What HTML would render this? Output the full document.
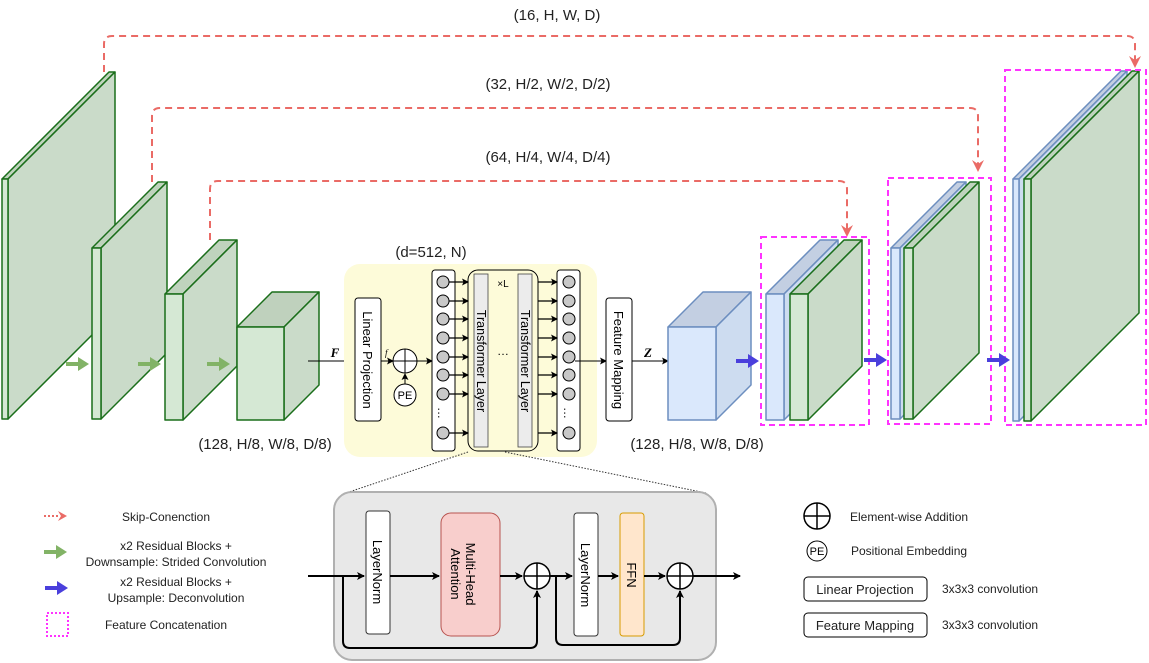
<!DOCTYPE html>
<html><head><meta charset="utf-8"><style>
html,body{margin:0;padding:0;background:#fff}
svg{display:block;font-family:"Liberation Sans",Arial,sans-serif}
</style></head><body>
<svg width="1149" height="663" viewBox="0 0 1149 663" xmlns="http://www.w3.org/2000/svg">
<defs>
<marker id="ah" markerWidth="8" markerHeight="8" refX="7" refY="4" orient="auto" markerUnits="userSpaceOnUse"><path d="M0,0 L8,4 L0,8 L2,4 Z" fill="#000"/></marker>
<marker id="ahs" markerWidth="7" markerHeight="7" refX="6" refY="3.5" orient="auto" markerUnits="userSpaceOnUse"><path d="M0,0 L7,3.5 L0,7 L1.5,3.5 Z" fill="#000"/></marker>
</defs>

<g fill="none" stroke="#ea6b66" stroke-width="2" stroke-dasharray="7 5">
<path d="M104,72 V44 Q104,36 112,36 H1127 Q1135,36 1135,44 V60"/>
<path d="M152,182 V116 Q152,108 160,108 H970 Q978,108 978,116 V164"/>
<path d="M210,240 V189 Q210,181 218,181 H839 Q847,181 847,189 V229"/>
</g>
<g fill="#ea6b66">
<path d="M1129,56 L1135,68 L1141,56 L1135,60 Z"/>
<path d="M972,160 L978,172 L984,160 L978,164 Z"/>
<path d="M841,225 L847,237 L853,225 L847,229 Z"/>
</g>
<g font-size="15" fill="#222" text-anchor="middle">
<text x="557" y="20">(16, H, W, D)</text>
<text x="548" y="89">(32, H/2, W/2, D/2)</text>
<text x="548" y="162">(64, H/4, W/4, D/4)</text>
<text x="431" y="257">(d=512, N)</text>
<text x="265" y="449">(128, H/8, W/8, D/8)</text>
<text x="697" y="449">(128, H/8, W/8, D/8)</text>
</g>

<g stroke="#1a6e1a" stroke-width="1.5" stroke-linejoin="round">
<polygon points="2,179 109,72 115,72 8,179" fill="#bfd3bd"/>
<polygon points="8,179 115,72 115,312 8,419" fill="#cadbc9"/>
<rect x="2" y="179" width="6" height="240" fill="#d5e8d4"/>
<polygon points="92,248 158,182 167,182 101,248" fill="#bfd3bd"/>
<polygon points="101,248 167,182 167,353 101,419" fill="#cadbc9"/>
<rect x="92" y="248" width="9" height="171" fill="#d5e8d4"/>
<polygon points="165,294 219,240 237,240 183,294" fill="#bfd3bd"/>
<polygon points="183,294 237,240 237,366 183,420" fill="#cadbc9"/>
<rect x="165" y="294" width="18" height="126" fill="#d5e8d4"/>
<polygon points="237,327 272,292 319,292 284,327" fill="#bfd1bd"/>
<polygon points="284,327 319,292 319,385 284,420" fill="#cadbc9"/>
<rect x="237" y="327" width="47" height="93" fill="#d5e8d4"/>
</g>
<g fill="#82b366">
<path d="M66,362 H78 V357 L89,364 L78,371 V366 H66 Z"/>
<path d="M138,362 H150 V357 L161,364 L150,371 V366 H138 Z"/>
<path d="M207,362 H219 V357 L230,364 L219,371 V366 H207 Z"/>
</g>
<line x1="308" y1="361" x2="355" y2="361" stroke="#000" stroke-width="1" marker-end="url(#ahs)"/>
<text x="335" y="357" font-family="Liberation Serif,serif" font-style="italic" font-weight="bold" font-size="13" text-anchor="middle">F</text>

<rect x="344" y="264" width="253" height="193" rx="16" fill="#fdfbd9"/>
<rect x="355" y="298" width="26" height="123" rx="3" fill="#fff" stroke="#000" stroke-width="1"/>
<text transform="translate(363,360) rotate(90)" font-size="13" text-anchor="middle">Linear Projection</text>
<line x1="381" y1="361" x2="393" y2="361" stroke="#000" marker-end="url(#ahs)"/>
<text x="385" y="356" font-size="9" font-style="italic" font-family="Liberation Serif,serif">f</text>
<circle cx="405" cy="361" r="12" fill="#fff" stroke="#000"/>
<path d="M393,361 H417 M405,349 V373" stroke="#000"/>
<circle cx="405" cy="395" r="11" fill="#fff" stroke="#000"/>
<text x="405" y="399" font-size="11" text-anchor="middle">PE</text>
<line x1="405" y1="384" x2="405" y2="374" stroke="#000" marker-end="url(#ahs)"/>
<line x1="417" y1="361" x2="432" y2="361" stroke="#000" marker-end="url(#ahs)"/>

<rect x="432" y="270" width="23" height="181" rx="3" fill="#fff" stroke="#000"/>
<rect x="557" y="270" width="23" height="181" rx="3" fill="#fff" stroke="#000"/>
<rect x="468" y="270" width="70" height="181" rx="10" fill="#fdfbd9" stroke="#000"/>
<rect x="474" y="274" width="14" height="173" fill="#ececec" stroke="#444" stroke-width="0.8"/>
<rect x="518" y="274" width="14" height="173" fill="#ececec" stroke="#444" stroke-width="0.8"/>
<text transform="translate(477,361) rotate(90)" font-size="12.5" text-anchor="middle">Transformer Layer</text>
<text transform="translate(521,361) rotate(90)" font-size="12.5" text-anchor="middle">Transformer Layer</text>
<text x="503" y="287" font-size="10" text-anchor="middle">×L</text>
<text x="503" y="355" font-size="12" text-anchor="middle">…</text>
<g fill="#c8c8c8" stroke="#000" stroke-width="1">
<circle cx="443" cy="282" r="6"/><circle cx="443" cy="301" r="6"/><circle cx="443" cy="319" r="6"/><circle cx="443" cy="338" r="6"/><circle cx="443" cy="357" r="6"/><circle cx="443" cy="375" r="6"/><circle cx="443" cy="394" r="6"/><circle cx="443" cy="433" r="6"/>
<circle cx="569" cy="282" r="6"/><circle cx="569" cy="301" r="6"/><circle cx="569" cy="319" r="6"/><circle cx="569" cy="338" r="6"/><circle cx="569" cy="357" r="6"/><circle cx="569" cy="375" r="6"/><circle cx="569" cy="394" r="6"/><circle cx="569" cy="433" r="6"/>
</g>
<text x="443" y="418" font-size="12" text-anchor="middle" transform="rotate(90 443 413)">…</text>
<text x="569" y="418" font-size="12" text-anchor="middle" transform="rotate(90 569 413)">…</text>
<g stroke="#000" stroke-width="1.2">
<line x1="449" y1="282" x2="468" y2="282" marker-end="url(#ahs)"/><line x1="449" y1="301" x2="468" y2="301" marker-end="url(#ahs)"/><line x1="449" y1="319" x2="468" y2="319" marker-end="url(#ahs)"/><line x1="449" y1="338" x2="468" y2="338" marker-end="url(#ahs)"/><line x1="449" y1="357" x2="468" y2="357" marker-end="url(#ahs)"/><line x1="449" y1="375" x2="468" y2="375" marker-end="url(#ahs)"/><line x1="449" y1="394" x2="468" y2="394" marker-end="url(#ahs)"/><line x1="449" y1="433" x2="468" y2="433" marker-end="url(#ahs)"/>
<line x1="538" y1="282" x2="557" y2="282" marker-end="url(#ahs)"/><line x1="538" y1="301" x2="557" y2="301" marker-end="url(#ahs)"/><line x1="538" y1="319" x2="557" y2="319" marker-end="url(#ahs)"/><line x1="538" y1="338" x2="557" y2="338" marker-end="url(#ahs)"/><line x1="538" y1="357" x2="557" y2="357" marker-end="url(#ahs)"/><line x1="538" y1="375" x2="557" y2="375" marker-end="url(#ahs)"/><line x1="538" y1="394" x2="557" y2="394" marker-end="url(#ahs)"/><line x1="538" y1="433" x2="557" y2="433" marker-end="url(#ahs)"/>
</g>
<g stroke="#000" stroke-width="1">
<line x1="575" y1="361" x2="606" y2="361" marker-end="url(#ahs)"/>
<line x1="632" y1="361" x2="668" y2="361" marker-end="url(#ahs)"/>
</g>
<rect x="606" y="298" width="26" height="123" rx="3" fill="#fff" stroke="#000"/>
<text transform="translate(614,360) rotate(90)" font-size="13" text-anchor="middle">Feature Mapping</text>
<text x="648" y="357" font-family="Liberation Serif,serif" font-style="italic" font-weight="bold" font-size="13" text-anchor="middle">Z</text>

<g stroke="#6c8ebf" stroke-width="1.5" stroke-linejoin="round">
<polygon points="668,327 703,292 751,292 716,327" fill="#c3cfe2"/>
<polygon points="716,327 751,292 751,385 716,420" fill="#cddcf0"/>
<rect x="668" y="327" width="48" height="93" fill="#dae8fc"/>
<polygon points="766,294 820,240 838,240 784,294" fill="#c3cfe2"/>
<polygon points="784,294 838,240 838,366 784,420" fill="#cddcf0"/>
<rect x="766" y="294" width="18" height="126" fill="#dae8fc"/>
<polygon points="891,248 957,182 966,182 900,248" fill="#c3cfe2"/>
<polygon points="900,248 966,182 966,353 900,419" fill="#cddcf0"/>
<rect x="891" y="248" width="9" height="171" fill="#dae8fc"/>
<polygon points="1013,179 1121,71 1127,71 1019,179" fill="#c3cfe2"/>
<polygon points="1019,179 1127,71 1127,313 1019,421" fill="#cddcf0"/>
<rect x="1013" y="179" width="6" height="242" fill="#dae8fc"/>
</g>
<g stroke="#1a6e1a" stroke-width="1.5" stroke-linejoin="round">
<polygon points="790,294 844,240 862,240 808,294" fill="#bfd3bd"/>
<polygon points="808,294 862,240 862,366 808,420" fill="#cadbc9"/>
<rect x="790" y="294" width="18" height="126" fill="#d5e8d4"/>
<polygon points="904,248 970,182 979,182 913,248" fill="#bfd3bd"/>
<polygon points="913,248 979,182 979,353 913,419" fill="#cadbc9"/>
<rect x="904" y="248" width="9" height="171" fill="#d5e8d4"/>
<polygon points="1024,179 1132,71 1139,71 1031,179" fill="#bfd3bd"/>
<polygon points="1031,179 1139,71 1139,313 1031,421" fill="#cadbc9"/>
<rect x="1024" y="179" width="7" height="242" fill="#d5e8d4"/>
</g>
<g fill="none" stroke="#ff33ff" stroke-width="2" stroke-dasharray="6 4">
<rect x="761" y="237" width="108" height="188"/>
<rect x="888" y="178" width="103" height="246"/>
<rect x="1005" y="70" width="141" height="355"/>
</g>
<g fill="#4a3fdc">
<path d="M736,359 H748 V354 L759,361 L748,368 V363 H736 Z"/>
<path d="M864,358 H876 V353 L887,360 L876,367 V362 H864 Z"/>
<path d="M987,358 H999 V353 L1010,360 L999,367 V362 H987 Z"/>
</g>

<g stroke="#333" stroke-width="1" stroke-dasharray="1.5 1.5">
<line x1="468" y1="452" x2="346" y2="493"/>
<line x1="505" y1="452" x2="706" y2="493"/>
</g>
<rect x="334" y="492" width="382" height="168" rx="18" fill="#e8e8e8" stroke="#b0b0b0" stroke-width="2"/>
<rect x="366" y="511" width="24" height="123" rx="3" fill="#fff" stroke="#333"/>
<text transform="translate(373,572) rotate(90)" font-size="13" text-anchor="middle">LayerNorm</text>
<rect x="441" y="513" width="59" height="123" rx="10" fill="#f8cecc" stroke="#b85450"/>
<text transform="translate(466,574) rotate(90)" font-size="13" text-anchor="middle"><tspan x="0" y="0">Multi-Head</tspan><tspan x="0" y="15">Attention</tspan></text>
<rect x="574" y="513" width="24" height="123" rx="3" fill="#fff" stroke="#333"/>
<text transform="translate(581,575) rotate(90)" font-size="13" text-anchor="middle">LayerNorm</text>
<rect x="620" y="513" width="24" height="123" rx="3" fill="#ffe6cc" stroke="#d79b00"/>
<text transform="translate(627,575) rotate(90)" font-size="13" text-anchor="middle">FFN</text>
<g stroke="#000" stroke-width="2" fill="none">
<line x1="308" y1="576" x2="364" y2="576" marker-end="url(#ah)"/>
<line x1="390" y1="576" x2="439" y2="576" marker-end="url(#ah)"/>
<line x1="500" y1="576" x2="522" y2="576" marker-end="url(#ah)"/>
<line x1="550" y1="576" x2="572" y2="576" marker-end="url(#ah)"/>
<line x1="598" y1="576" x2="618" y2="576" marker-end="url(#ah)"/>
<line x1="644" y1="576" x2="665" y2="576" marker-end="url(#ah)"/>
<line x1="693" y1="576" x2="740" y2="576" marker-end="url(#ah)"/>
<path d="M343,576 V641 Q343,648 350,648 H530 Q537,648 537,641 V591" marker-end="url(#ah)"/>
<path d="M556,576 V638 Q556,645 563,645 H673 Q680,645 680,638 V591" marker-end="url(#ah)"/>
</g>
<g fill="#fff" stroke="#000" stroke-width="1.5">
<circle cx="537" cy="576" r="13"/><circle cx="680" cy="576" r="13"/>
</g>
<path d="M524,576 H550 M537,563 V589 M667,576 H693 M680,563 V589" stroke="#000" stroke-width="1.5"/>

<line x1="44" y1="516" x2="60" y2="516" stroke="#ea6b66" stroke-width="2" stroke-dasharray="2 2"/>
<path d="M58,511 L67,516 L58,521 L61,516 Z" fill="#ea6b66"/>
<path d="M44,550 H56 V545 L67,552 L56,559 V554 H44 Z" fill="#82b366"/>
<path d="M45,586 H57 V581 L68,588 L57,595 V590 H45 Z" fill="#4a3fdc"/>
<rect x="47" y="613" width="21" height="23" fill="none" stroke="#ff33ff" stroke-width="2" stroke-dasharray="2 2"/>
<g font-size="12" fill="#222" text-anchor="middle">
<text x="166" y="521">Skip-Conenction</text>
<text x="176" y="550">x2 Residual Blocks +</text>
<text x="176" y="566">Downsample: Strided Convolution</text>
<text x="176" y="586">x2 Residual Blocks +</text>
<text x="176" y="602">Upsample: Deconvolution</text>
<text x="166" y="629">Feature Concatenation</text>
</g>
<circle cx="817" cy="516" r="13" fill="#fff" stroke="#000" stroke-width="1.5"/>
<path d="M804,516 H830 M817,503 V529" stroke="#000" stroke-width="1.5"/>
<circle cx="817" cy="551" r="10" fill="#fff" stroke="#000"/>
<text x="817" y="555" font-size="11" text-anchor="middle">PE</text>
<rect x="804" y="577" width="123" height="24" rx="4" fill="#fff" stroke="#000"/>
<rect x="804" y="613" width="123" height="24" rx="4" fill="#fff" stroke="#000"/>
<g font-size="12" fill="#222">
<text x="850" y="521">Element-wise Addition</text>
<text x="851" y="555">Positional Embedding</text>
<text x="865" y="594" font-size="13" text-anchor="middle">Linear Projection</text>
<text x="865" y="630" font-size="13" text-anchor="middle">Feature Mapping</text>
<text x="942" y="593">3x3x3 convolution</text>
<text x="942" y="629">3x3x3 convolution</text>
</g>
</svg>
</body></html>
